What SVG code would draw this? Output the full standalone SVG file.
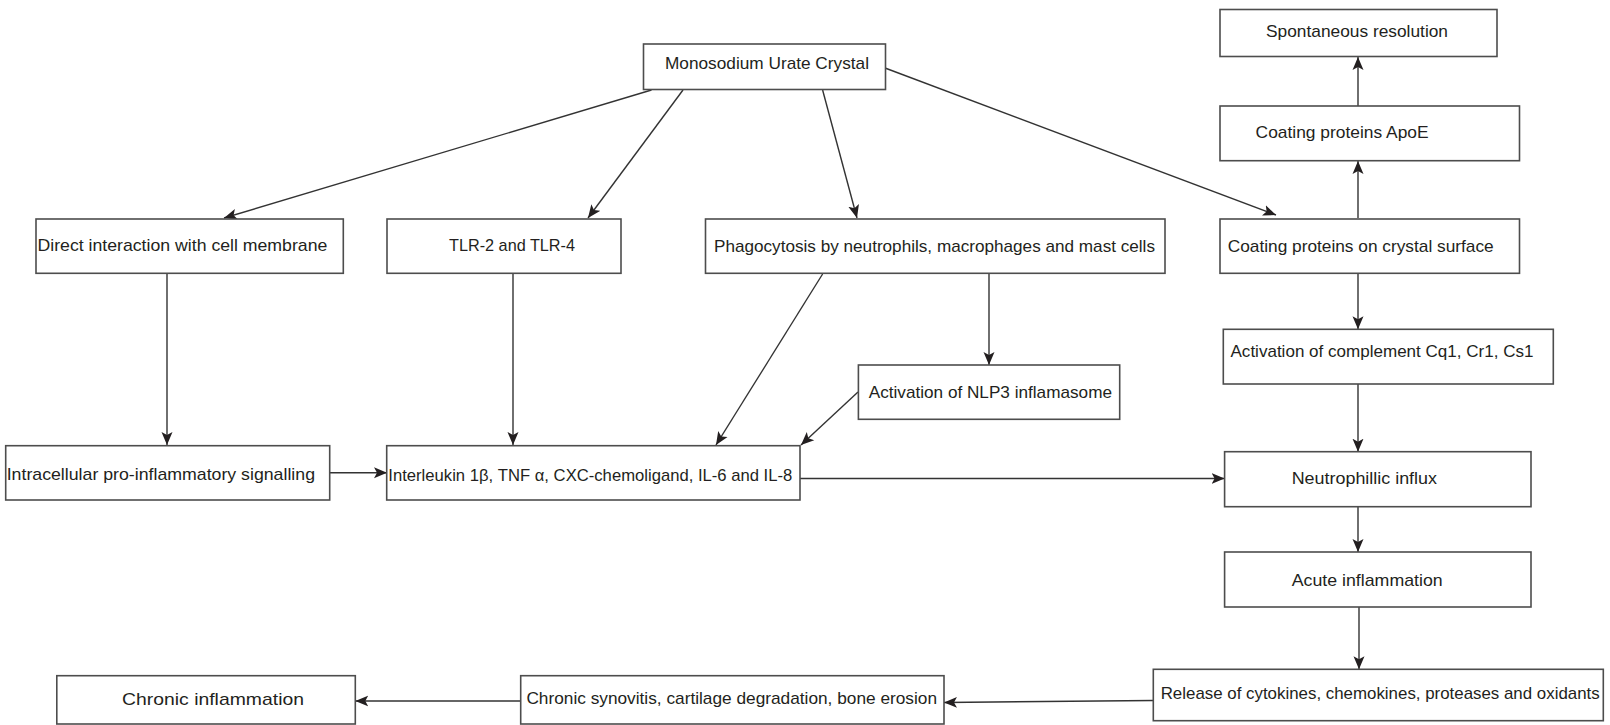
<svg xmlns="http://www.w3.org/2000/svg" width="1610" height="725" viewBox="0 0 1610 725">
<style>
.box{fill:#fff;stroke:#4d4d4d;stroke-width:1.6}
.t{font-family:"Liberation Sans",Arial,sans-serif;font-size:17px;fill:#231f20}
.c{fill:none;stroke:#333;stroke-width:1.4}
</style>
<defs>
<marker id="ah" markerUnits="userSpaceOnUse" markerWidth="14" markerHeight="12" viewBox="0 0 14 12" refX="13" refY="6" orient="auto">
<path d="M0,0.5 L13,6 L0,11.5 L3,6 Z" fill="#231f20"/>
</marker>
</defs>
<rect width="1610" height="725" fill="#fff"/>
<g id="connectors" class="c" marker-end="url(#ah)">
<line x1="651.5" y1="90" x2="224" y2="218"/>
<line x1="683" y1="90" x2="588" y2="218"/>
<line x1="822.6" y1="90" x2="857" y2="218"/>
<line x1="885" y1="68" x2="1276" y2="215"/>
<line x1="1358" y1="218" x2="1358" y2="161"/>
<line x1="1358" y1="106" x2="1358" y2="57"/>
<line x1="167" y1="274" x2="167" y2="445"/>
<line x1="513" y1="274" x2="513" y2="445"/>
<line x1="822.6" y1="274" x2="716" y2="445"/>
<line x1="989" y1="274" x2="989" y2="365"/>
<line x1="858" y1="392" x2="801" y2="445"/>
<line x1="329.7" y1="472.7" x2="387" y2="472.7"/>
<line x1="800" y1="478.5" x2="1224.6" y2="478.5"/>
<line x1="1358" y1="274" x2="1358" y2="329.3"/>
<line x1="1358" y1="384" x2="1358" y2="451.7"/>
<line x1="1358" y1="506.7" x2="1358" y2="552"/>
<line x1="1359" y1="607" x2="1359" y2="669.3"/>
<line x1="1153.3" y1="700.5" x2="944" y2="702.5"/>
<line x1="520.7" y1="701" x2="355.3" y2="701"/>
</g>
<g id="n-msu"><rect class="box" x="643.5" y="44" width="242" height="45.5"/><text class="t" x="665" y="69.3" textLength="204" lengthAdjust="spacingAndGlyphs">Monosodium Urate Crystal</text></g>
<g id="n-spont"><rect class="box" x="1220" y="9.5" width="277" height="47"/><text class="t" x="1266" y="36.5" textLength="182" lengthAdjust="spacingAndGlyphs">Spontaneous resolution</text></g>
<g id="n-apoe"><rect class="box" x="1220" y="106" width="299.5" height="54.7"/><text class="t" x="1255.6" y="138" textLength="173" lengthAdjust="spacingAndGlyphs">Coating proteins ApoE</text></g>
<g id="n-direct"><rect class="box" x="36" y="219" width="307.3" height="54.3"/><text class="t" x="37.5" y="251.3" textLength="289.8" lengthAdjust="spacingAndGlyphs">Direct interaction with cell membrane</text></g>
<g id="n-tlr"><rect class="box" x="387" y="219" width="234" height="54.3"/><text class="t" x="449" y="251" textLength="126" lengthAdjust="spacingAndGlyphs">TLR-2 and  TLR-4</text></g>
<g id="n-phago"><rect class="box" x="705.5" y="219" width="459.5" height="54.3"/><text class="t" x="714" y="251.5" textLength="441" lengthAdjust="spacingAndGlyphs">Phagocytosis by neutrophils, macrophages and mast cells</text></g>
<g id="n-coat"><rect class="box" x="1220" y="219" width="299.5" height="54.3"/><text class="t" x="1227.7" y="251.5" textLength="266" lengthAdjust="spacingAndGlyphs">Coating proteins on crystal surface</text></g>
<g id="n-nlp3"><rect class="box" x="858.4" y="365" width="261.3" height="54.3"/><text class="t" x="868.7" y="398.3" textLength="243.3" lengthAdjust="spacingAndGlyphs">Activation of NLP3 inflamasome</text></g>
<g id="n-compl"><rect class="box" x="1223.3" y="329.3" width="330" height="54.7"/><text class="t" x="1230.5" y="357" textLength="303" lengthAdjust="spacingAndGlyphs">Activation of complement Cq1, Cr1, Cs1</text></g>
<g id="n-intra"><rect class="box" x="5.7" y="445.7" width="324" height="54.3"/><text class="t" x="6.7" y="479.5" textLength="308.3" lengthAdjust="spacingAndGlyphs">Intracellular pro-inflammatory signalling</text></g>
<g id="n-il"><rect class="box" x="386.7" y="445.7" width="413.3" height="54.3"/><text class="t" x="388.3" y="481" textLength="404" lengthAdjust="spacingAndGlyphs">Interleukin 1β, TNF α, CXC-chemoligand, IL-6 and IL-8</text></g>
<g id="n-neutro"><rect class="box" x="1224.6" y="451.7" width="306.4" height="55"/><text class="t" x="1291.7" y="484" textLength="145.3" lengthAdjust="spacingAndGlyphs">Neutrophillic influx</text></g>
<g id="n-acute"><rect class="box" x="1224.6" y="552" width="306.4" height="55"/><text class="t" x="1291.7" y="585.5" textLength="151" lengthAdjust="spacingAndGlyphs">Acute inflammation</text></g>
<g id="n-release"><rect class="box" x="1153.3" y="669.3" width="450" height="51.4"/><text class="t" x="1160.7" y="699" textLength="439" lengthAdjust="spacingAndGlyphs">Release of cytokines, chemokines, proteases and oxidants</text></g>
<g id="n-synov"><rect class="box" x="520.7" y="675.7" width="423.3" height="48.3"/><text class="t" x="526.4" y="704" textLength="410.6" lengthAdjust="spacingAndGlyphs">Chronic synovitis, cartilage degradation, bone erosion</text></g>
<g id="n-chronic"><rect class="box" x="56.8" y="675.7" width="298.5" height="48.3"/><text class="t" x="122" y="705" textLength="182" lengthAdjust="spacingAndGlyphs">Chronic inflammation</text></g>
</svg>
